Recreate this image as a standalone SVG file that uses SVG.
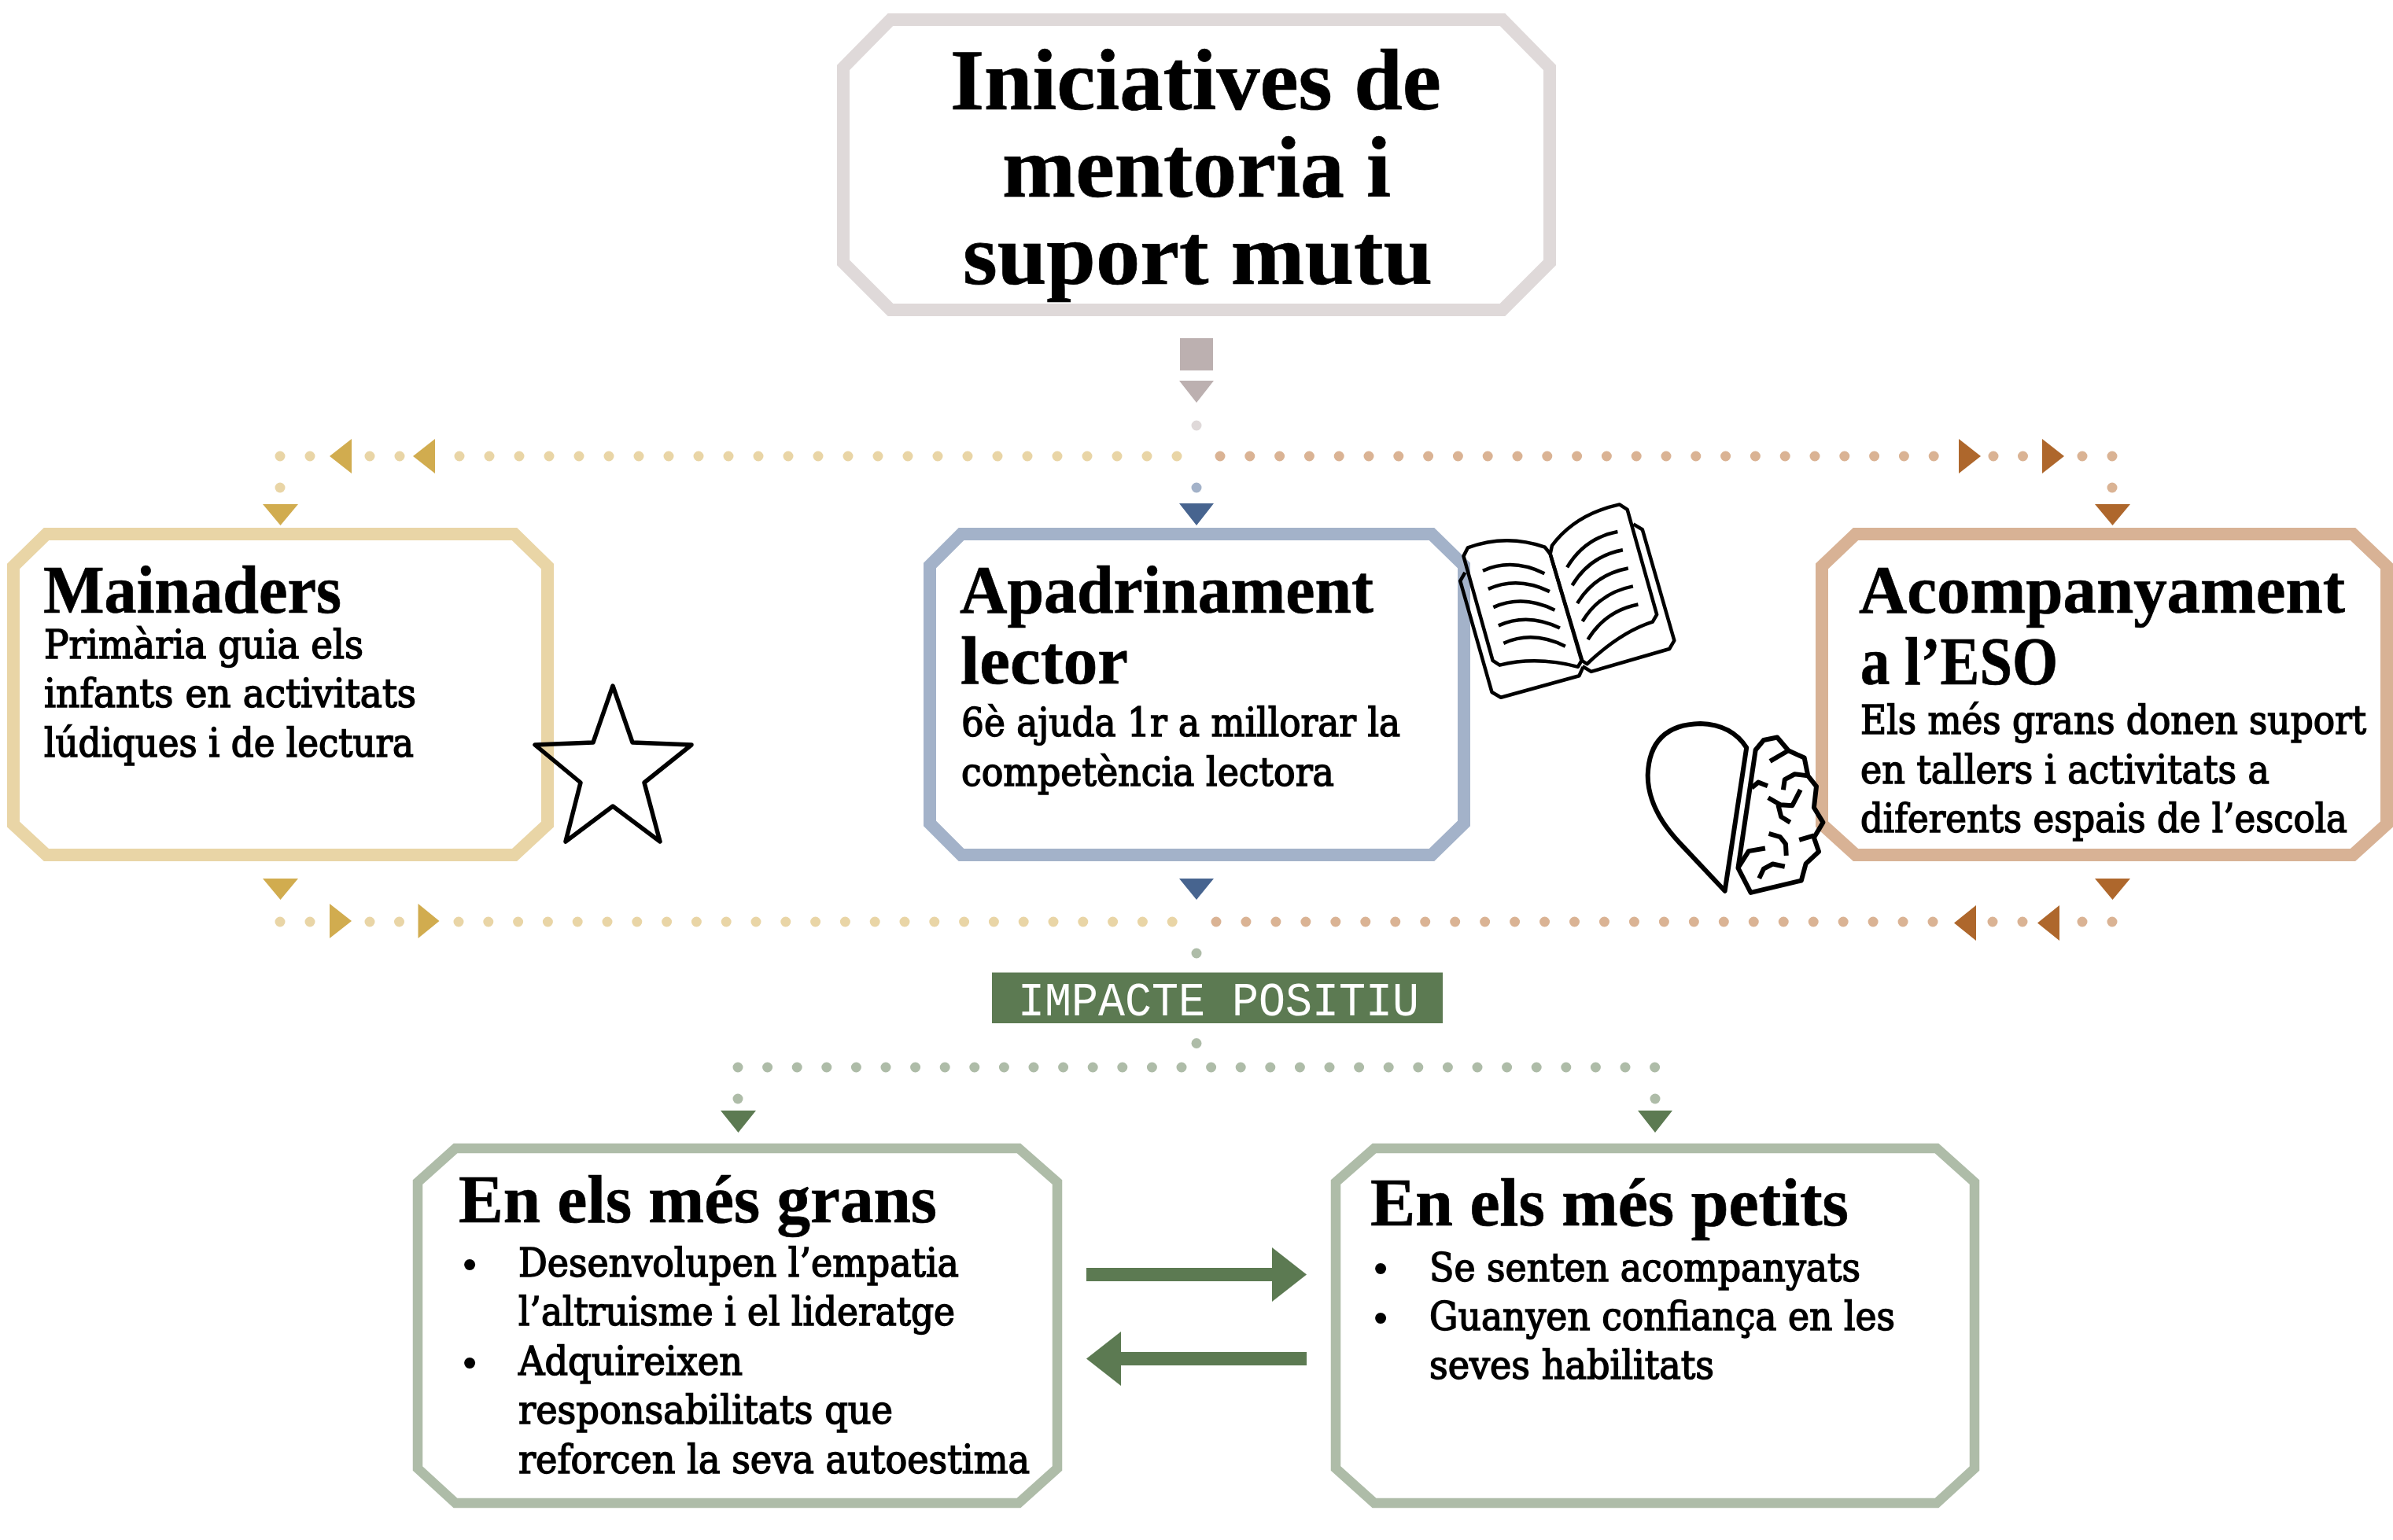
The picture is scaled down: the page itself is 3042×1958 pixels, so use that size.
<svg xmlns="http://www.w3.org/2000/svg" width="3042" height="1958" viewBox="0 0 3042 1958">
<style>
text{fill:#000}
.t{font-family:"Liberation Serif",serif;font-weight:700;stroke:#000;stroke-width:.7px}
.h1{font-size:110px}
.h2{font-size:87px}
.b{font-family:"DejaVu Serif",serif;font-stretch:condensed;font-size:51px;stroke:#000;stroke-width:1.5px}
.bu{font-family:"Liberation Sans",sans-serif;font-size:52px}
.m{font-family:"Liberation Mono",monospace;font-size:61px;fill:#fff}
.box{fill:#fff;stroke-width:16;stroke-linejoin:miter}
.d{fill:none;stroke-width:13;stroke-linecap:round}
.ic{fill:none;stroke:#000;stroke-linejoin:round;vector-effect:non-scaling-stroke}
.ic *{fill:none;stroke:#000;vector-effect:non-scaling-stroke}
.y{stroke:#e9d5a6}.o{stroke:#dab394}.g{stroke:#aebca8}
.Y{fill:#d1ac4f}.O{fill:#ae672c}.G{fill:#5c7a52}.B{fill:#47648f}.R{fill:#bcb0b0}
</style>

<g id="connectors">
<rect class="R" x="1500" y="430" width="42" height="41"/>
<polygon class="R" points="1499,484 1543,484 1521,512"/>
<line class="d" stroke="#dfd9d9" x1="1521" y1="541" x2="1521" y2="541.01"/>
<g fill="none">
<line class="d y" x1="356" y1="620" x2="356" y2="620.01"/>
<line class="d y" x1="356" y1="580" x2="395" y2="580" stroke-dasharray="0 38"/>
<line class="d y" x1="470" y1="580" x2="509" y2="580" stroke-dasharray="0 38"/>
<line class="d y" x1="584" y1="580" x2="1497" y2="580" stroke-dasharray="0 38"/>
<line class="d o" x1="1551" y1="580" x2="2459" y2="580" stroke-dasharray="0 37.8"/>
<line class="d o" x1="2534" y1="580" x2="2572" y2="580" stroke-dasharray="0 37.5"/>
<line class="d o" x1="2647" y1="580" x2="2686" y2="580" stroke-dasharray="0 38"/>
<line class="d o" x1="2685" y1="620" x2="2685" y2="620.01"/>
<line class="d" stroke="#a3b2c9" x1="1521" y1="620" x2="1521" y2="620.01"/>
<line class="d y" x1="356" y1="1172" x2="395" y2="1172" stroke-dasharray="0 38"/>
<line class="d y" x1="470" y1="1172" x2="508" y2="1172" stroke-dasharray="0 37.5"/>
<line class="d y" x1="583" y1="1172" x2="1491" y2="1172" stroke-dasharray="0 37.8"/>
<line class="d o" x1="1546" y1="1172" x2="2458" y2="1172" stroke-dasharray="0 37.96"/>
<line class="d o" x1="2533" y1="1172" x2="2572" y2="1172" stroke-dasharray="0 38"/>
<line class="d o" x1="2647" y1="1172" x2="2686" y2="1172" stroke-dasharray="0 38"/>
<line class="d g" x1="1521" y1="1212" x2="1521" y2="1212.01"/>
<line class="d g" x1="1521" y1="1326.5" x2="1521" y2="1326.51"/>
<line class="d g" x1="938" y1="1357" x2="2105" y2="1357" stroke-dasharray="0 37.6"/>
<line class="d g" x1="938" y1="1397" x2="938" y2="1397.01"/>
<line class="d g" x1="2104" y1="1397" x2="2104" y2="1397.01"/>
</g>
<polygon class="Y" points="334,641 379,641 356.5,668"/>
<polygon class="B" points="1499,640 1543,640 1521,668"/>
<polygon class="O" points="2663,641 2708,641 2685.5,668"/>
<polygon class="Y" points="334,1117 379,1117 356.5,1144"/>
<polygon class="B" points="1499,1117 1543,1117 1521,1144"/>
<polygon class="O" points="2663,1117 2708,1117 2685.5,1144"/>
<polygon class="Y" points="419,580 447,558 447,602"/>
<polygon class="Y" points="525,580 553,558 553,602"/>
<polygon class="O" points="2490,558 2518,580 2490,602"/>
<polygon class="O" points="2596,558 2624,580 2596,602"/>
<polygon class="Y" points="419,1149 447,1171 419,1193"/>
<polygon class="Y" points="531.5,1149 558.5,1171 531.5,1193"/>
<polygon class="O" points="2484,1173.5 2512,1151 2512,1196"/>
<polygon class="O" points="2590,1173.5 2618,1151 2618,1196"/>
<polygon class="G" points="916,1412 961,1412 938.5,1440"/>
<polygon class="G" points="2082,1412 2126,1412 2104,1440"/>
<polygon class="G" points="1381,1612 1617,1612 1617,1586 1661,1620.5 1617,1655 1617,1629 1381,1629"/>
<polygon class="G" points="1661,1719 1425,1719 1425,1693 1381,1727.5 1425,1762 1425,1736 1661,1736"/>
</g>

<g id="node-title">
<polygon class="box" stroke="#dfd9d9" points="1132,25 1910,25 1970,86 1970,334 1910,394 1132,394 1072,334 1072,86"/>
<text class="t h1" x="1208" y="139" textLength="624" lengthAdjust="spacingAndGlyphs">Iniciatives de</text>
<text class="t h1" x="1274" y="250" textLength="494" lengthAdjust="spacingAndGlyphs">mentoria i</text>
<text class="t h1" x="1224" y="361" textLength="597" lengthAdjust="spacingAndGlyphs">suport mutu</text>
</g>

<g id="node-impacte">
<rect class="G" x="1261" y="1236.5" width="573" height="64.5"/>
<text class="m" x="1294" y="1291" textLength="510" lengthAdjust="spacingAndGlyphs">IMPACTE POSITIU</text>
</g>

<g id="node-mainaders">
<polygon class="box" stroke="#e9d5a6" points="59,679 654,679 696,720 696,1048 654,1087 59,1087 17,1048 17,720"/>
<text class="t h2" x="55" y="778.5" textLength="379" lengthAdjust="spacingAndGlyphs">Mainaders</text>
<text class="b" x="56" y="837" textLength="406" lengthAdjust="spacingAndGlyphs">Primària guia els</text>
<text class="b" x="56" y="899" textLength="473" lengthAdjust="spacingAndGlyphs">infants en activitats</text>
<text class="b" x="56" y="961.5" textLength="470" lengthAdjust="spacingAndGlyphs">lúdiques i de lectura</text>
</g>

<g id="node-apadrinament">
<polygon class="box" stroke="#a3b2c9" points="1222,679 1820,679 1861,719 1861,1047 1820,1087 1222,1087 1182,1047 1182,719"/>
<text class="t h2" x="1220" y="778.5" textLength="526" lengthAdjust="spacingAndGlyphs">Apadrinament</text>
<text class="t h2" x="1221" y="869" textLength="213" lengthAdjust="spacingAndGlyphs">lector</text>
<text class="b" x="1222" y="936" textLength="558" lengthAdjust="spacingAndGlyphs">6è ajuda 1r a millorar la</text>
<text class="b" x="1222" y="999" textLength="474" lengthAdjust="spacingAndGlyphs">competència lectora</text>
</g>

<g id="node-acompanyament">
<polygon class="box" stroke="#d8b295" points="2359,679 2991,679 3034,720 3034,1048 2991,1087 2359,1087 2316,1048 2316,720"/>
<text class="t h2" x="2363" y="778.5" textLength="618" lengthAdjust="spacingAndGlyphs">Acompanyament</text>
<text class="t h2" x="2365" y="870" textLength="251" lengthAdjust="spacingAndGlyphs">a l’ESO</text>
<text class="b" x="2365" y="933" textLength="643" lengthAdjust="spacingAndGlyphs">Els més grans donen suport</text>
<text class="b" x="2365" y="996" textLength="520" lengthAdjust="spacingAndGlyphs">en tallers i activitats a</text>
<text class="b" x="2365" y="1058" textLength="619" lengthAdjust="spacingAndGlyphs">diferents espais de l’escola</text>
</g>

<g id="node-grans">
<polygon class="box" style="stroke-width:12.5" stroke="#aebca8" points="579,1460 1295,1460 1344,1503 1344,1867 1295,1911 579,1911 531,1867 531,1503"/>
<text class="t h2" x="583" y="1554" textLength="608" lengthAdjust="spacingAndGlyphs">En els més grans</text>
<text class="bu" x="588" y="1625">•</text>
<text class="b" x="659" y="1623" textLength="560" lengthAdjust="spacingAndGlyphs">Desenvolupen l’empatia</text>
<text class="b" x="659" y="1685" textLength="555" lengthAdjust="spacingAndGlyphs">l’altruisme i el lideratge</text>
<text class="bu" x="588" y="1750">•</text>
<text class="b" x="659" y="1748" textLength="285" lengthAdjust="spacingAndGlyphs">Adquireixen</text>
<text class="b" x="659" y="1810" textLength="476" lengthAdjust="spacingAndGlyphs">responsabilitats que</text>
<text class="b" x="659" y="1873" textLength="650" lengthAdjust="spacingAndGlyphs">reforcen la seva autoestima</text>
</g>

<g id="node-petits">
<polygon class="box" style="stroke-width:12.5" stroke="#aebca8" points="1747,1460 2462,1460 2510,1503 2510,1867 2462,1911 1747,1911 1698,1867 1698,1503"/>
<text class="t h2" x="1742" y="1557.5" textLength="608" lengthAdjust="spacingAndGlyphs">En els més petits</text>
<text class="bu" x="1746" y="1630">•</text>
<text class="b" x="1817" y="1629" textLength="548" lengthAdjust="spacingAndGlyphs">Se senten acompanyats</text>
<text class="bu" x="1746" y="1693">•</text>
<text class="b" x="1817" y="1691" textLength="592" lengthAdjust="spacingAndGlyphs">Guanyen confiança en les</text>
<text class="b" x="1817" y="1753" textLength="362" lengthAdjust="spacingAndGlyphs">seves habilitats</text>
</g>

<g id="icon-star">
<polygon class="ic" points="779,872 804,944 879,947 819,995 839,1070 779,1025 719,1070 738,995 680,947 754,944" style="stroke-width:5.5"/>
</g>

<g id="icon-book" class="ic" transform="translate(1800,600) scale(0.3827,0.3571)" style="stroke-width:4.5">
<path d="M158 300L172 270Q300 220 428 268L446 292L550 672L538 694Q400 655 278 688L255 672Z"/>
<path d="M452 262Q530 150 676 116L702 134L800 508L786 534Q680 570 568 684L552 672L446 292Z"/>
<path d="M163 358L147 388L252 784L282 803L542 726L555 695"/>
<path d="M722 186L752 205L858 600L842 630L582 711L553 692"/>
<path d="M222 352Q320 305 427 362M240 417Q338 370 444 426M257 482Q355 435 461 492M274 547Q372 500 478 556M291 610Q389 563 496 621"/>
<path d="M502 340Q560 235 670 213M519 404Q577 300 687 278M536 468Q594 365 705 343M553 532Q611 430 721 407M571 597Q629 495 738 472"/>
</g>

<g id="icon-heart-brain" class="ic" transform="translate(1800,600) scale(0.3827,0.3571)" style="stroke-width:6">
<path d="M1098 982Q1050 900 945 896Q775 900 770 1080Q770 1200 875 1320L1026 1492Z"/>
<path d="M1128 990L1155 955L1200 945L1237 992L1290 1018L1302 1082L1330 1120L1322 1195L1352 1248L1322 1302L1338 1352L1295 1395L1280 1455L1112 1498L1070 1410Z"/>
<path d="M1176 1030L1237 992M1220 1132L1225 1095L1258 1076L1302 1082M1115 1125L1137 1105L1168 1118M1170 1160L1210 1185L1250 1188L1277 1132M1203 1185L1213 1228L1243 1248M1172 1288L1210 1300L1228 1325L1230 1366M1273 1310L1322 1295M1160 1340L1105 1350L1070 1410M1140 1447L1155 1413L1185 1396L1225 1405"/>
</g>
</svg>
